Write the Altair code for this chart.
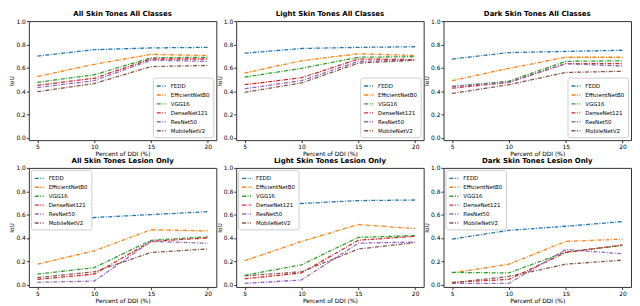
import altair as alt
import pandas as pd

x_vals = [5, 10, 15, 20]
models = ["FEDD", "EfficientNetB0", "VGG16", "DenseNet121", "ResNet50", "MobileNetV2"]
colors = ["#1f77b4", "#ff7f0e", "#2ca02c", "#d62728", "#9467bd", "#8c564b"]

titles = [
    "All Skin Tones All Classes",
    "Light Skin Tones All Classes",
    "Dark Skin Tones All Classes",
    "All Skin Tones Lesion Only",
    "Light Skin Tones Lesion Only",
    "Dark Skin Tones Lesion Only",
]

all_classes_all = {
    "FEDD": [0.70, 0.755, 0.77, 0.775],
    "EfficientNetB0": [0.525, 0.63, 0.715, 0.705],
    "VGG16": [0.475, 0.54, 0.685, 0.69],
    "DenseNet121": [0.45, 0.51, 0.675, 0.675],
    "ResNet50": [0.43, 0.49, 0.665, 0.655],
    "MobileNetV2": [0.395, 0.465, 0.61, 0.62],
}
all_classes_light = {
    "FEDD": [0.725, 0.765, 0.775, 0.78],
    "EfficientNetB0": [0.555, 0.66, 0.72, 0.705],
    "VGG16": [0.52, 0.595, 0.69, 0.695],
    "DenseNet121": [0.455, 0.515, 0.675, 0.67],
    "ResNet50": [0.42, 0.49, 0.655, 0.665],
    "MobileNetV2": [0.39, 0.47, 0.64, 0.665],
}
all_classes_dark = {
    "FEDD": [0.675, 0.73, 0.74, 0.75],
    "EfficientNetB0": [0.49, 0.595, 0.69, 0.69],
    "VGG16": [0.44, 0.485, 0.655, 0.66],
    "DenseNet121": [0.425, 0.475, 0.635, 0.635],
    "ResNet50": [0.44, 0.475, 0.635, 0.615],
    "MobileNetV2": [0.38, 0.455, 0.56, 0.57],
}
lesion_all = {
    "FEDD": [0.51, 0.575, 0.60, 0.625],
    "EfficientNetB0": [0.175, 0.29, 0.47, 0.46],
    "VGG16": [0.09, 0.145, 0.38, 0.41],
    "DenseNet121": [0.045, 0.09, 0.37, 0.40],
    "ResNet50": [0.02, 0.03, 0.37, 0.355],
    "MobileNetV2": [0.06, 0.11, 0.275, 0.305],
}
lesion_light = {
    "FEDD": [0.64, 0.695, 0.72, 0.725],
    "EfficientNetB0": [0.205, 0.37, 0.515, 0.48],
    "VGG16": [0.08, 0.17, 0.405, 0.42],
    "DenseNet121": [0.05, 0.10, 0.38, 0.415],
    "ResNet50": [0.01, 0.04, 0.355, 0.365],
    "MobileNetV2": [0.075, 0.11, 0.305, 0.36],
}
lesion_dark = {
    "FEDD": [0.39, 0.465, 0.50, 0.54],
    "EfficientNetB0": [0.10, 0.175, 0.37, 0.39],
    "VGG16": [0.105, 0.10, 0.28, 0.335],
    "DenseNet121": [0.02, 0.045, 0.275, 0.34],
    "ResNet50": [0.01, 0.01, 0.30, 0.265],
    "MobileNetV2": [0.015, 0.07, 0.175, 0.21],
}

panels = [all_classes_all, all_classes_light, all_classes_dark,
          lesion_all, lesion_light, lesion_dark]

DASH = [4, 1.5, 1, 1.5]
FONT = "DejaVu Sans"


def make_panel(values, title, legend_orient, legend_offset):
    rows = []
    for m in models:
        for x, v in zip(x_vals, values[m]):
            rows.append({"pct": x, "iou": v, "model": m})
    df = pd.DataFrame(rows)
    return alt.Chart(df, title=alt.TitleParams(
        title, fontSize=7, fontWeight="bold", font=FONT, offset=1, color="black"
    )).mark_line(strokeDash=DASH, strokeWidth=1.3).encode(
        x=alt.X("pct:Q", title="Percent of DDI (%)",
                scale=alt.Scale(domain=[4.25, 20.75], nice=False, zero=False),
                axis=alt.Axis(values=x_vals, format="d")),
        y=alt.Y("iou:Q", title="IoU",
                scale=alt.Scale(domain=[-0.02, 1.0], nice=False),
                axis=alt.Axis(values=[0, 0.2, 0.4, 0.6, 0.8, 1.0], format=".1f")),
        color=alt.Color("model:N", sort=models,
                        scale=alt.Scale(domain=models, range=colors),
                        legend=alt.Legend(
                            title=None, orient=legend_orient, offset=legend_offset,
                            symbolType="stroke", symbolDash=DASH,
                            symbolStrokeWidth=1.4, symbolSize=81,
                            labelFontSize=5.5, labelFont=FONT, labelColor="black",
                            labelOffset=4,
                            fillColor="white", strokeColor="#cccccc",
                            cornerRadius=2, padding=3, rowPadding=0,
                        )),
        detail="model:N",
    ).properties(width=189, height=120)


charts = []
for i, (vals, t) in enumerate(zip(panels, titles)):
    if i < 3:
        charts.append(make_panel(vals, t, "bottom-right", 3))
    else:
        charts.append(make_panel(vals, t, "top-left", 2))

chart = alt.concat(
    *charts, columns=3, spacing={"row": 28, "column": 20}, bounds="flush"
).resolve_scale(color="independent").properties(padding=0).configure_view(
    stroke="#333333", strokeWidth=1
).configure_axis(
    grid=False, domain=False, tickColor="#333333", tickSize=2.5,
    labelFontSize=6, labelFont=FONT, labelColor="black", labelPadding=1,
    titleFontSize=6, titleFont=FONT, titleFontWeight="normal",
    titleColor="black", titlePadding=1,
)

chart.save("out.html", embed_options={"renderer": "svg", "actions": False})
